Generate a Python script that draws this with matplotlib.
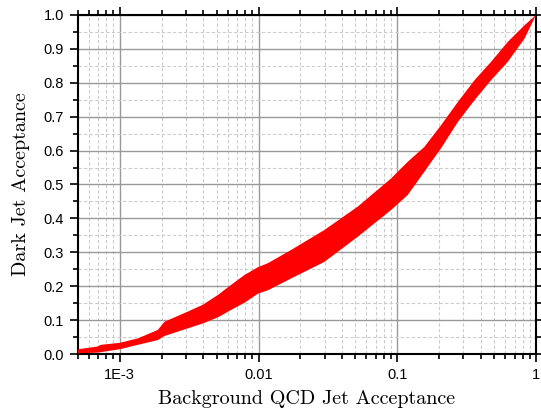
import numpy as np
import matplotlib
matplotlib.use("Agg")
import matplotlib.pyplot as plt
from matplotlib.ticker import LogLocator, FixedLocator, MultipleLocator, FuncFormatter, NullFormatter

# Data
upper_x = [0.0005, 0.00069, 0.00073, 0.001, 0.00135, 0.00188, 0.0021, 0.00248, 0.00309,
           0.00396, 0.00509, 0.00635, 0.00792, 0.0099, 0.0117, 0.0172, 0.0299, 0.052,
           0.0904, 0.119, 0.157, 0.207, 0.274, 0.361, 0.475, 0.627, 0.828, 1.0]
upper_y = [0.014, 0.022, 0.027, 0.033, 0.046, 0.071, 0.095, 0.108, 0.125,
           0.145, 0.174, 0.204, 0.233, 0.256, 0.268, 0.307, 0.366, 0.435,
           0.518, 0.567, 0.611, 0.675, 0.744, 0.808, 0.862, 0.921, 0.97, 1.0]
lower_x = [0.0005, 0.00069, 0.001, 0.00135, 0.00188, 0.0021, 0.00262, 0.00396, 0.00509,
           0.00635, 0.00792, 0.0099, 0.0117, 0.0172, 0.0299, 0.052, 0.0904, 0.119,
           0.157, 0.207, 0.274, 0.361, 0.475, 0.627, 0.828, 1.0]
lower_y = [0.002, 0.004, 0.014, 0.027, 0.041, 0.053, 0.066, 0.09, 0.108,
           0.13, 0.151, 0.178, 0.188, 0.223, 0.272, 0.346, 0.425, 0.469,
           0.538, 0.607, 0.685, 0.749, 0.808, 0.862, 0.931, 1.0]
x_ticks = [1e-3, 1e-2, 1e-1, 1]
x_ticklabels = ["1E-3", "0.01", "0.1", "1"]

fig = plt.figure(figsize=(5.41, 4.08), dpi=100)
ax = fig.add_axes([78/541, 1-354/408, (536-78)/541, (354-15)/408])

poly_x = list(upper_x) + list(lower_x[::-1])
poly_y = list(upper_y) + list(lower_y[::-1])
ax.fill(poly_x, poly_y, color="#ff0000", lw=0, zorder=3)

ax.set_xscale("log")
ax.set_xlim(5e-4, 1)
ax.set_ylim(0, 1)

ax.xaxis.set_major_locator(FixedLocator(x_ticks))
ax.xaxis.set_major_formatter(FuncFormatter(lambda v, p: dict(zip(x_ticks, x_ticklabels)).get(v, "")))
ax.xaxis.set_minor_locator(LogLocator(base=10, subs=np.arange(2, 10), numticks=20))
ax.xaxis.set_minor_formatter(NullFormatter())
ax.yaxis.set_major_locator(MultipleLocator(0.1))
ax.yaxis.set_minor_locator(MultipleLocator(0.05))
ax.yaxis.set_major_formatter(FuncFormatter(lambda v, p: f"{v:.1f}"))

ax.grid(which="major", color="#999999", lw=1.0, ls="-", zorder=1)
ax.grid(which="minor", color="#cccccc", lw=0.8, ls=(0, (3, 2)), zorder=1)
ax.set_axisbelow(True)

for s in ax.spines.values():
    s.set_linewidth(1.5)
    s.set_color("black")

ax.tick_params(which="both", direction="out", top=True, right=True, color="black", width=1.2)
ax.tick_params(which="major", length=6, labelsize=10.5, pad=4)
ax.tick_params(which="minor", length=3.5)
for lab in ax.get_xticklabels() + ax.get_yticklabels():
    lab.set_fontfamily("Liberation Sans")

ax.set_xlabel("Background QCD Jet Acceptance", fontname="cmr10", fontsize=14.5, labelpad=6)
ax.set_ylabel("Dark Jet Acceptance", fontname="cmr10", fontsize=14.5, labelpad=10)

fig.savefig("out.png", dpi=100)
